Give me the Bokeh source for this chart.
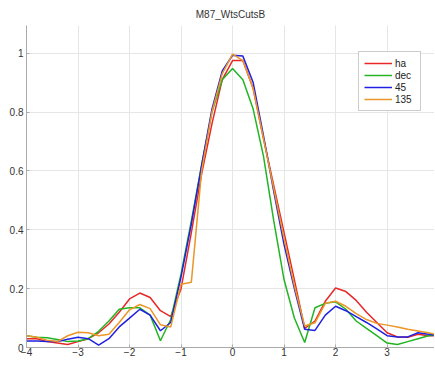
from bokeh.plotting import figure
from bokeh.models import Range1d, Legend, LegendItem, FixedTicker
from bokeh.embed import file_html
from bokeh.resources import INLINE

x = [-4.0, -3.8, -3.6, -3.4, -3.2, -3.0, -2.8, -2.6, -2.4, -2.2, -2.0, -1.8, -1.6, -1.4, -1.2,
     -1.0, -0.8, -0.6, -0.4, -0.2, 0.0, 0.2, 0.4, 0.6, 0.8, 1.0, 1.2,
     1.4, 1.6, 1.8, 2.0, 2.2, 2.4, 2.6, 2.8, 3.0, 3.2, 3.4, 3.6, 3.8, 4.0]

ha = [0.03, 0.03, 0.02, 0.015, 0.01, 0.02, 0.03, 0.05, 0.08, 0.12, 0.165, 0.185, 0.17, 0.125, 0.105,
      0.2, 0.39, 0.59, 0.76, 0.91, 0.975, 0.975, 0.88, 0.71, 0.55, 0.39, 0.23,
      0.065, 0.09, 0.157, 0.202, 0.19, 0.16, 0.12, 0.085, 0.05, 0.036, 0.035, 0.045, 0.04, 0.04]

dec = [0.04, 0.035, 0.033, 0.027, 0.02, 0.022, 0.03, 0.055, 0.09, 0.13, 0.135, 0.135, 0.11, 0.023, 0.095,
       0.25, 0.43, 0.62, 0.8, 0.91, 0.948, 0.91, 0.81, 0.65, 0.43, 0.23, 0.1,
       0.017, 0.135, 0.15, 0.155, 0.13, 0.09, 0.065, 0.04, 0.015, 0.01, 0.02, 0.03, 0.04, 0.045]

d45 = [0.022, 0.022, 0.02, 0.02, 0.028, 0.035, 0.03, 0.008, 0.03, 0.07, 0.1, 0.13, 0.11, 0.057, 0.085,
       0.24, 0.42, 0.62, 0.81, 0.94, 0.993, 0.99, 0.9, 0.72, 0.53, 0.35, 0.2,
       0.062, 0.058, 0.11, 0.14, 0.125, 0.105, 0.085, 0.063, 0.04, 0.036, 0.036, 0.05, 0.045, 0.04]

d135 = [0.04, 0.035, 0.025, 0.02, 0.04, 0.052, 0.05, 0.04, 0.045, 0.085, 0.128, 0.146, 0.132, 0.077, 0.07,
        0.215, 0.222, 0.6, 0.8, 0.93, 0.997, 0.975, 0.88, 0.71, 0.54, 0.37, 0.21,
        0.073, 0.084, 0.15, 0.157, 0.14, 0.115, 0.095, 0.082, 0.076, 0.07, 0.062, 0.056, 0.05, 0.043]

series = [("ha", ha, "#e82828"), ("dec", dec, "#22b422"), ("45", d45, "#2020e0"), ("135", d135, "#eb9628")]

x_ticks = [-4, -3, -2, -1, 0, 1, 2, 3]
y_ticks = [0, 0.2, 0.4, 0.6, 0.8, 1]

p = figure(frame_width=408, frame_height=322, output_backend="svg", toolbar_location=None,
           x_range=Range1d(-4, 3.92), y_range=Range1d(0, 1.094),
           min_border_left=0, min_border_right=0, min_border_top=0, min_border_bottom=0)

p.title.text = "M87_WtsCutsB"
p.title.align = "center"
p.title.text_font = "Liberation Sans"
p.title.text_font_size = "10px"
p.title.text_font_style = "normal"
p.title.text_color = "#333333"
p.title.standoff = 12
p.title.offset = 0

p.outline_line_color = None
p.background_fill_color = "white"

for ax in (p.xaxis[0], p.yaxis[0]):
    ax.axis_line_color = "#aaaaaa"
    ax.major_tick_line_color = "#aaaaaa"
    ax.major_tick_in = 3
    ax.major_tick_out = 0
    ax.minor_tick_line_color = None
    ax.major_label_text_font = "Liberation Sans"
    ax.major_label_text_font_size = "10px"
    ax.major_label_text_color = "#333333"
    ax.major_label_standoff = 3

p.xaxis.major_label_standoff = 0
p.yaxis.axis_label = " "
p.yaxis.axis_label_text_font_size = "3px"
p.yaxis.axis_label_standoff = 0

p.xaxis.ticker = FixedTicker(ticks=x_ticks)
p.yaxis.ticker = FixedTicker(ticks=y_ticks)
p.yaxis.major_label_overrides = {0: "0", 1: "1"}

p.xgrid.grid_line_color = "#e6e6e6"
p.ygrid.grid_line_color = "#e6e6e6"

items = []
for name, ys, col in series:
    r = p.line(x, ys, line_color=col, line_width=1.5)
    items.append(LegendItem(label=name, renderers=[r]))

legend = Legend(items=items, location=(332, 236), orientation="vertical",
                glyph_width=28, glyph_height=12, label_height=12,
                label_text_font="Liberation Sans", label_text_font_size="10px",
                label_text_color="#222222", label_standoff=3,
                spacing=0, padding=5, margin=0,
                border_line_color="#999999", border_line_width=1,
                background_fill_color="white", background_fill_alpha=1)
p.add_layout(legend, "center")

open("out.html", "w").write(file_html(p, INLINE))
